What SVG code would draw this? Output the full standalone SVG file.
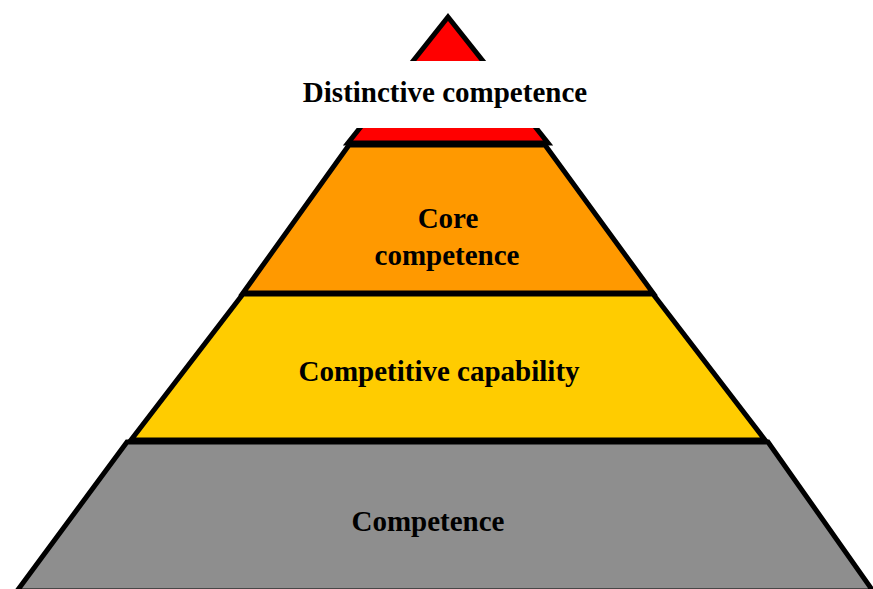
<svg xmlns="http://www.w3.org/2000/svg" width="873" height="589" viewBox="0 0 873 589">
<style>
.layer{stroke:#000;stroke-width:5;stroke-linejoin:miter}
.lbl{font-family:"Liberation Serif","Times New Roman",serif;font-weight:bold;font-size:29px;fill:#000;text-anchor:middle}
</style>
<rect width="873" height="589" fill="#fff"/>
<g id="competence">
<polygon class="layer" points="127,442 768,442 873,591 17,591" fill="#8E8E8E"/>
<text class="lbl" x="428" y="531">Competence</text>
</g>
<g id="competitive-capability">
<polygon class="layer" points="243,294 653,294 765,440 131,440" fill="#FFCC00"/>
<text class="lbl" x="439" y="381">Competitive capability</text>
</g>
<g id="core-competence">
<polygon class="layer" points="349,145 545,145 653,293 243,293" fill="#FF9900"/>
<text class="lbl" x="448" y="228">Core</text>
<text class="lbl" x="447" y="265">competence</text>
</g>
<g id="distinctive-competence">
<polygon class="layer" points="448,17 548,143 348,143" fill="#FF0000"/>
<rect x="290" y="61" width="310" height="67" fill="#fff"/>
<text class="lbl" x="445" y="102">Distinctive competence</text>
</g>
<g id="connectors"></g>
</svg>
